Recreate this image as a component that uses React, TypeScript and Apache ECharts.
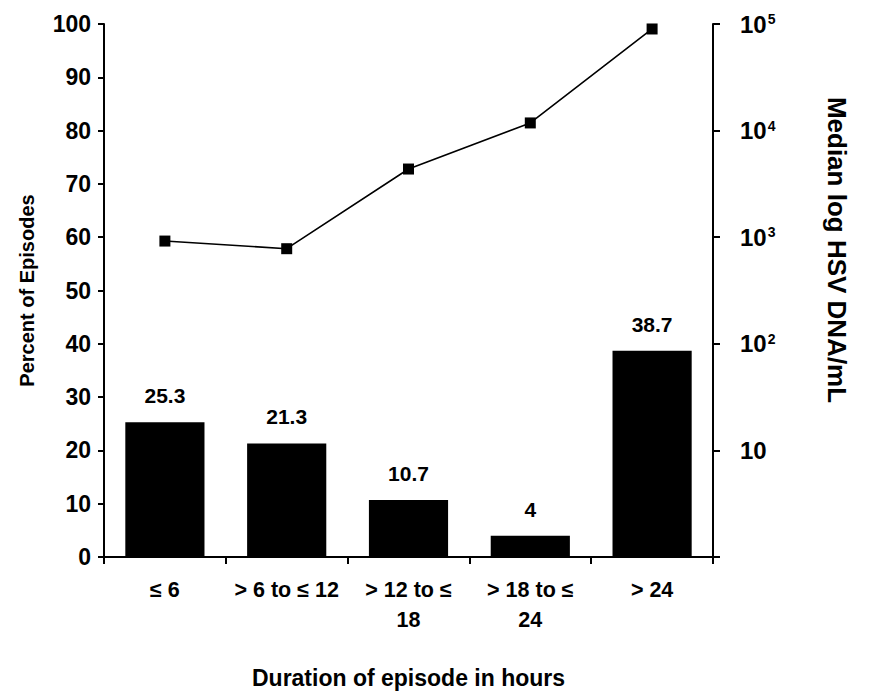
import React, { useEffect, useRef } from "react";
import * as echarts from "echarts";

const categories = ["≤ 6", "> 6 to ≤ 12", "> 12 to ≤\n18", "> 18 to ≤\n24", "> 24"];
const percentEpisodes = [25.3, 21.3, 10.7, 4, 38.7];
const medianHsvDna = [920, 780, 4360, 11800, 89800];
const leftTicks = { min: 0, max: 100, interval: 10 };
const rightLog = { min: 1, max: 100000 };

const FONT = "'Liberation Sans', Arial, Helvetica, sans-serif";

export default function App() {
  const ref = useRef<HTMLDivElement>(null);

  useEffect(() => {
    if (!ref.current) return;
    const chart = echarts.init(ref.current, null, { renderer: "svg" });
    chart.setOption({
      animation: false,
      backgroundColor: "#ffffff",
      textStyle: { fontFamily: FONT, color: "#000" },
      grid: { left: 104, right: 158, top: 24, bottom: 137, containLabel: false },
      xAxis: {
        type: "category",
        data: categories,
        boundaryGap: true,
        name: "Duration of episode in hours",
        nameLocation: "middle",
        nameGap: 109,
        nameTextStyle: { fontSize: 23, fontWeight: "bold", color: "#000", fontFamily: FONT },
        axisLine: { show: true, lineStyle: { color: "#000", width: 2 } },
        axisTick: { show: true, alignWithLabel: false, length: 7, lineStyle: { color: "#000", width: 2 } },
        axisLabel: {
          interval: 0,
          margin: 18,
          fontSize: 21.5,
          lineHeight: 30,
          fontWeight: "bold",
          color: "#000",
          fontFamily: FONT,
        },
        splitLine: { show: false },
      },
      yAxis: [
        {
          type: "value",
          min: leftTicks.min,
          max: leftTicks.max,
          interval: leftTicks.interval,
          position: "left",
          name: "Percent of Episodes",
          nameLocation: "middle",
          nameGap: 67,
          nameTextStyle: { fontSize: 20, fontWeight: "bold", color: "#000", fontFamily: FONT },
          axisLine: { show: true, lineStyle: { color: "#000", width: 2 } },
          axisTick: { show: true, length: 6, lineStyle: { color: "#000", width: 2 } },
          axisLabel: { margin: 13, fontSize: 23, fontWeight: "bold", color: "#000", fontFamily: FONT },
          splitLine: { show: false },
        },
        {
          type: "log",
          logBase: 10,
          min: rightLog.min,
          max: rightLog.max,
          splitNumber: 5,
          position: "right",
          axisLine: { show: true, lineStyle: { color: "#000", width: 2 } },
          axisTick: { show: true, length: 7, lineStyle: { color: "#000", width: 2 } },
          axisLabel: {
            margin: 27,
            color: "#000",
            fontFamily: FONT,
            formatter: (v: number) => {
              const e = Math.round(Math.log10(v));
              if (e <= 0) return "";
              if (e === 1) return "{t|10}";
              return "{b|10}{s|" + e + "}";
            },
            rich: {
              t: { fontSize: 24, fontWeight: "bold", color: "#000", fontFamily: FONT, lineHeight: 24 },
              b: { fontSize: 24, fontWeight: "bold", color: "#000", fontFamily: FONT, lineHeight: 24, verticalAlign: "bottom" },
              s: { fontSize: 14, fontWeight: "bold", color: "#000", fontFamily: FONT, verticalAlign: "top", lineHeight: 14, padding: [0, 0, 16, 1] },
            },
          },
          splitLine: { show: false },
        },
      ],
      graphic: [
        {
          type: "text",
          x: 837,
          y: 250,
          rotation: -Math.PI / 2,
          style: {
            text: "Median log HSV DNA/mL",
            fontSize: 26,
            fontWeight: "bold",
            fill: "#000",
            fontFamily: FONT,
            align: "center",
            verticalAlign: "middle",
          },
        },
      ],
      series: [
        {
          type: "bar",
          yAxisIndex: 0,
          data: percentEpisodes,
          barWidth: "65%",
          itemStyle: { color: "#000" },
          label: {
            show: true,
            position: "top",
            distance: 16,
            fontSize: 21,
            fontWeight: "bold",
            color: "#000",
            fontFamily: FONT,
          },
        },
        {
          type: "line",
          yAxisIndex: 1,
          data: medianHsvDna,
          symbol: "rect",
          symbolSize: 11,
          lineStyle: { color: "#000", width: 1.6 },
          itemStyle: { color: "#000" },
        },
      ],
    });
    return () => chart.dispose();
  }, []);

  return (
    <div
      ref={ref}
      style={{ position: "absolute", left: 0, top: 0, width: 871, height: 694, background: "#fff" }}
    />
  );
}
